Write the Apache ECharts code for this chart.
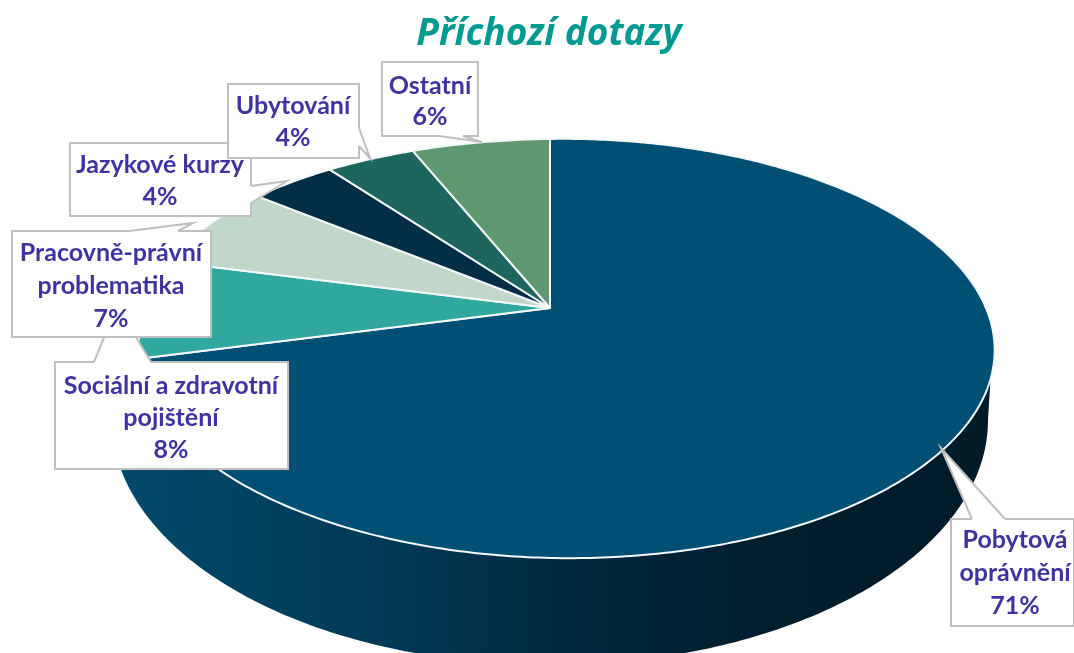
<!DOCTYPE html>
<html>
<head>
<meta charset="utf-8">
<style>html,body{margin:0;padding:0;background:#fff;overflow:hidden}#c{width:1074px;height:653px}</style>
<script src="https://cdn.jsdelivr.net/npm/echarts@6/dist/echarts.min.js"></script>
</head>
<body>
<div id="c"></div>
<script>
const titleText = 'Příchozí dotazy';
const categories = ['Pobytová\noprávnění', 'Sociální a zdravotní\npojištění', 'Pracovně-právní\nproblematika', 'Jazykové kurzy', 'Ubytování', 'Ostatní'];
const values = [71, 8, 7, 4, 4, 6];
const sliceColors = ['#004f74', '#31a89d', '#c1d7ca', '#022e45', '#1c665e', '#5d9870'];

// Perspective of the tilted pie: unit circle -> screen
const view = {cx: 550, cy: 308, A: 419.4, B: 201.7, k: 0.193, kBackLeft: 0.12, m: -0.038};
// Lower rim of the side wall
const wall = {cx: 550, cy: 420, rx: 438, ry: 245};
// Callout layout: box [x0,y0,x1,y1], pointer [[x,y],...], text centre
const callouts = [
  {i: 1, box: [55, 362, 288, 469], ptr: [[94, 362], [117, 306], [151, 362]], tx: 171, ty: 418, lh: 32},
  {i: 2, box: [12, 231, 211, 337], ptr: [[129, 231], [193, 223], [178, 231]], tx: 111, ty: 286, lh: 33},
  {i: 3, box: [70, 143, 251, 216], ptr: [[251, 186], [287, 181], [251, 203]], tx: 160, ty: 181, lh: 32},
  {i: 4, box: [228, 84, 359, 158], ptr: [[359, 128], [370, 158], [359, 146]], tx: 293, ty: 122, lh: 32},
  {i: 5, box: [382, 62, 478, 136], ptr: [[439, 136], [482, 142], [463, 136]], tx: 430, ty: 101, lh: 31},
  {i: 0, box: [951, 519, 1074, 626], ptr: [[972, 519], [941, 448], [1005, 519]], tx: 1015, ty: 573, lh: 33}
];

const total = values.reduce((a, b) => a + b, 0);
const project = t => {
  const u = Math.sin(t), v = Math.cos(t), w = 1 + view.k * v + view.m * u;
  const kx = (u < 0 && v > 0) ? view.kBackLeft : view.k, wx = 1 + kx * v + view.m * u;
  return [view.cx + view.A * u / wx, view.cy - view.B * v / w];
};
const startOf = idx => values.slice(0, idx).reduce((a, b) => a + b, 0) / total * 2 * Math.PI;

function renderSlice(params, api) {
  const idx = params.dataIndex, a0 = startOf(idx), a1 = a0 + api.value(0) / total * 2 * Math.PI;
  const n = Math.max(8, Math.ceil((a1 - a0) * 90));
  const pts = [[view.cx, view.cy]];
  for (let j = 0; j <= n; j++) pts.push(project(a0 + (a1 - a0) * j / n));
  return {type: 'polygon', shape: {points: pts},
    style: {fill: sliceColors[idx], stroke: '#f4f8f8', lineWidth: 2, lineJoin: 'round'}};
}

function renderWall() {
  const pts = [];
  pts.push(project(Math.PI / 2 + 0.12));
  for (let j = 0; j <= 200; j++) {
    const t = j / 200 * (Math.PI + 0.24);
    pts.push([wall.cx + wall.rx * Math.cos(t), wall.cy + wall.ry * Math.sin(t)]);
  }
  pts.push([view.cx, view.cy]);
  return {type: 'polygon', shape: {points: pts}, silent: true,
    style: {fill: new echarts.graphic.LinearGradient(0, 0, 1, 0, [
      {offset: 0, color: '#00496c'}, {offset: 0.15, color: '#004262'},
      {offset: 0.3, color: '#003a56'}, {offset: 0.5, color: '#012a3f'},
      {offset: 0.7, color: '#011f2f'}, {offset: 1, color: '#001a28'}], false)}};
}

function renderCallout(params, api) {
  const c = callouts[params.dataIndex], [x0, y0, x1, y1] = c.box;
  return {type: 'group', children: [
    {type: 'rect', shape: {x: x0, y: y0, width: x1 - x0, height: y1 - y0},
      style: {fill: '#fff', stroke: '#bfbfbf', lineWidth: 2}},
    {type: 'line', shape: {x1: c.ptr[0][0], y1: c.ptr[0][1], x2: c.ptr[2][0], y2: c.ptr[2][1]},
      style: {stroke: '#fff', lineWidth: 3}},
    {type: 'polygon', shape: {points: c.ptr}, style: {fill: '#fff'}},
    {type: 'polyline', shape: {points: c.ptr}, style: {stroke: '#bfbfbf', lineWidth: 2, fill: null}}
  ]};
}

function renderLabel(params, api) {
  const c = callouts[params.dataIndex];
  return {type: 'text', x: c.tx, y: c.ty, style: {
    text: categories[c.i] + '\n' + values[c.i] + '%',
    fill: '#3f33a0', font: 'bold 25px Lato', align: 'center', verticalAlign: 'middle', lineHeight: c.lh}};
}

const chart = echarts.init(document.getElementById('c'), null, {renderer: 'canvas'});
chart.setOption({
  animation: false,
  backgroundColor: '#fff',
  title: {text: titleText, left: 544, top: 11, textAlign: 'center',
    textStyle: {color: '#009a93', fontFamily: 'Open Sans', fontWeight: 'bold', fontStyle: 'italic', fontSize: 37}},
  series: [
    {type: 'custom', coordinateSystem: 'none', z: 1, data: [0], renderItem: renderWall, silent: true},
    {type: 'custom', coordinateSystem: 'none', z: 2, data: values.map((v, i) => ({value: [v], name: categories[i]})), renderItem: renderSlice, silent: true},
    {type: 'custom', coordinateSystem: 'none', z: 3, data: callouts.map(c => c.i), renderItem: renderCallout, silent: true},
    {type: 'custom', coordinateSystem: 'none', z: 4, data: callouts.map(c => c.i), renderItem: renderLabel, silent: true}
  ]
});
</script>
</body>
</html>
